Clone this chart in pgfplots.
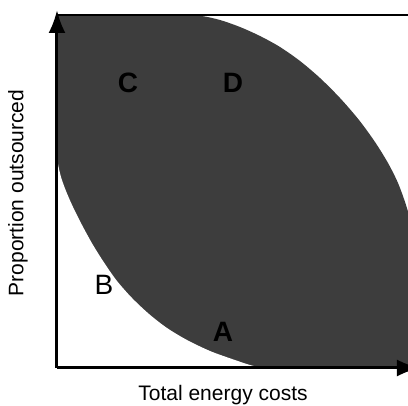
\documentclass[border=0pt]{standalone}
\usepackage{fontspec}
\setmainfont{Liberation Sans}
\usepackage{pgfplots}
\pgfplotsset{compat=1.18}
\usetikzlibrary{arrows.meta}
\definecolor{lensgray}{RGB}{61,61,61}
\begin{document}
\begin{tikzpicture}
\begin{axis}[
  scale only axis,
  width=351pt, height=358pt,
  xmin=0, xmax=351, ymin=0, ymax=358,
  axis x line=bottom, axis y line=left,
  axis line style={line width=3pt, -{Latex[length=23pt,width=17pt]}},
  x axis line style={shorten >=-12pt},
  xtick=\empty, ytick=\empty,
  clip=false, axis on top,
  xlabel={Total energy costs}, ylabel={Proportion outsourced},
  label style={font=\fontsize{21}{25}\selectfont},
  x label style={at={(axis description cs:0.473,-0.075)}, anchor=center},
  y label style={at={(axis description cs:-0.111,0.489)}, anchor=center},
]
% region under the upper curve
\addplot[fill=lensgray, draw=none, smooth] coordinates {
(0,353) (65,353) (130,353) (145,352) (163,348) (183,341) (203,332) (223,321)
(243,307) (263,290) (283,270) (302,248) (318,226) (331,205) (341,185) (349,163)
(356,138) (362,108) (366,75) (369,35) (370,0)
} \closedcycle;
% region under the lower curve (left blank)
\addplot[fill=white, draw=none, smooth] coordinates {
(0,213) (1,204) (4,191) (9,177) (16,161) (25,143) (36,123) (48,104) (60,87)
(75,70) (92,54) (110,40) (130,28) (153,17) (175,9) (193,3) (206,0)
} \closedcycle;
\addplot[black, line width=2pt] coordinates {(0,353) (370,353)};
\node[font=\fontsize{28}{30}\selectfont\bfseries] at (axis cs:71,285) {C};
\node[font=\fontsize{28}{30}\selectfont\bfseries] at (axis cs:176,285) {D};
\node[font=\fontsize{28}{30}\selectfont] at (axis cs:47,83) {B};
\node[font=\fontsize{28}{30}\selectfont\bfseries] at (axis cs:166,36) {A};
\end{axis}
\pgfresetboundingbox
\path (-57pt,-38pt) rectangle (351pt,368pt);
\end{tikzpicture}
\end{document}
